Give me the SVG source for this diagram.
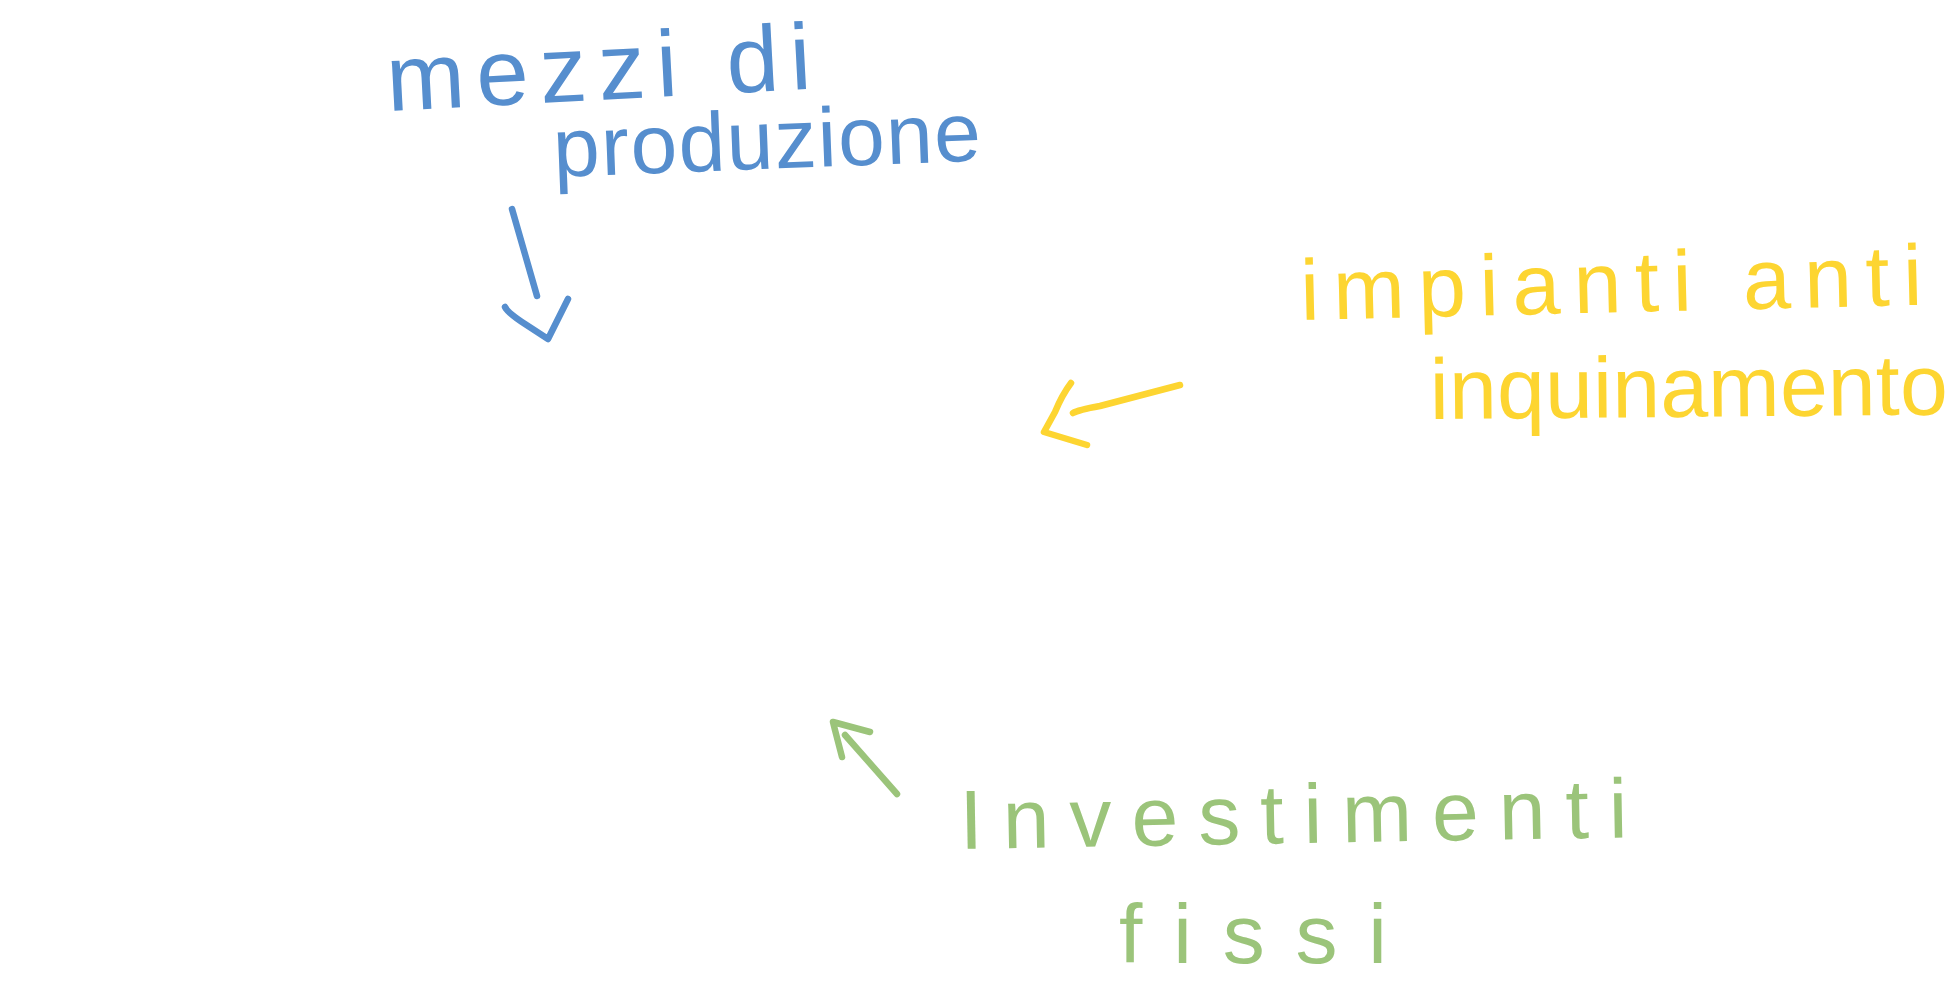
<svg xmlns="http://www.w3.org/2000/svg" width="1952" height="1000" viewBox="0 0 1952 1000">
<style>
  .lbl { font-family: "Liberation Sans", Arial, sans-serif; font-weight: normal; }
  .blue { fill: #568ece; }
  .yellow { fill: #fdd531; }
  .green { fill: #9bc47a; }
  .conn { fill: none; stroke-width: 6.5; stroke-linecap: round; stroke-linejoin: round; }
</style>
<rect x="0" y="0" width="1952" height="1000" fill="#ffffff"/>
<g id="node-mezzi-di-produzione">
  <text class="lbl blue" x="388" y="111" font-size="94" textLength="425" lengthAdjust="spacing" transform="rotate(-3 388 111)">mezzi di</text>
  <text class="lbl blue" x="554" y="177" font-size="84" textLength="428" lengthAdjust="spacing" transform="rotate(-2.2 554 177)">produzione</text>
</g>
<g id="node-impianti-anti-inquinamento">
  <text class="lbl yellow" x="1301" y="320" font-size="86" textLength="622" lengthAdjust="spacing" transform="rotate(-1.4 1301 320)">impianti anti</text>
  <text class="lbl yellow" x="1430" y="419" font-size="86" textLength="518" lengthAdjust="spacing" transform="rotate(-0.5 1430 419)">inquinamento</text>
</g>
<g id="node-investimenti-fissi">
  <text class="lbl green" x="960" y="849" font-size="84" textLength="668" lengthAdjust="spacing" transform="rotate(-1 960 849)">Investimenti</text>
  <text class="lbl green" x="1119" y="963" font-size="84" textLength="268" lengthAdjust="spacing">fissi</text>
</g>
<g id="connectors">
  <g id="arrow-blue" stroke="#568ece" class="conn">
    <path class="conn" d="M512,209 L537,296"/>
    <path class="conn" d="M505,307 Q508,313 525,324 L548,339 L568,299"/>
  </g>
  <g id="arrow-yellow" stroke="#fdd531" class="conn">
    <path class="conn" d="M1180,385 Q1130,398 1100,406 Q1078,410 1073,413"/>
    <path class="conn" d="M1071,383 Q1062,395 1055,412 L1044,432 L1087,445"/>
  </g>
  <g id="arrow-green" stroke="#9bc47a" class="conn">
    <path class="conn" d="M897,794 L845,735"/>
    <path class="conn" d="M842,757 L835,730 L833,722 L870,732"/>
  </g>
</g>
</svg>
